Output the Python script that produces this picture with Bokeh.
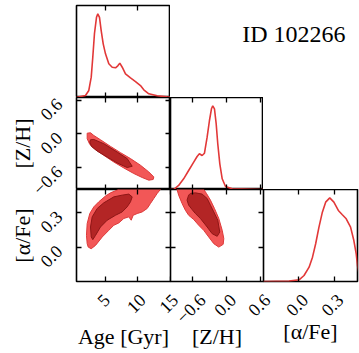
from math import pi
from bokeh.plotting import figure
from bokeh.models import Range1d, LinearAxis, FixedTicker, Label, CustomJSTickFormatter
from bokeh.layouts import column, row
from bokeh.embed import file_html
from bokeh.resources import INLINE

# ---------------- data ----------------
title_text = "ID 102266"
param_labels = ["Age [Gyr]", "[Z/H]", "[α/Fe]"]

age_range = (0.57, 15.0)
zh_range = (-0.99, 0.645)
afe_range = (-0.30, 0.50)
pdf_range = (0.0, 1.1)

age_ticks = [5, 10, 15]
age_tick_labels = ["5", "10", "15"]
zh_ticks = [-0.6, 0.0, 0.6]
zh_tick_labels = ["−0.6", "0.0", "0.6"]
afe_ticks = [0.0, 0.3]
afe_tick_labels = ["0.0", "0.3"]

# 1D marginal posteriors (normalised to peak = 1)
age_x = [0.57, 1.18, 1.95, 2.46, 2.83, 3.07, 3.33, 3.64, 3.84, 4.10, 4.36, 4.67, 5.02, 5.53,
         6.05, 6.56, 6.91, 7.22, 7.59, 8.09, 8.86, 9.63, 10.39, 10.90, 11.67, 12.96, 14.49, 15.0]
age_pdf = [0.0, 0.012, 0.024, 0.084, 0.243, 0.481, 0.765, 0.959, 1.0, 0.959, 0.80, 0.642, 0.522, 0.403,
           0.362, 0.355, 0.379, 0.41, 0.362, 0.283, 0.235, 0.191, 0.143, 0.092, 0.044, 0.020, 0.008, 0.006]

zh_x = [-0.99, -0.935, -0.847, -0.759, -0.671, -0.582, -0.522, -0.482, -0.434, -0.393, -0.346, -0.305,
        -0.270, -0.247, -0.217, -0.187, -0.159, -0.123, -0.081, -0.023, 0.095, 0.595, 0.645]
zh_pdf = [0.0, 0.0, 0.048, 0.128, 0.227, 0.327, 0.395, 0.427, 0.407, 0.434, 0.626, 0.825,
          0.965, 1.0, 0.965, 0.786, 0.547, 0.307, 0.128, 0.036, 0.008, 0.0, 0.0]

afe_x = [-0.30, -0.082, 0.003, 0.045, 0.088, 0.117, 0.144, 0.172, 0.201, 0.229, 0.264, 0.299,
         0.337, 0.371, 0.404, 0.441, 0.469, 0.489, 0.500, 0.52]
afe_pdf = [0.0, 0.004, 0.02, 0.072, 0.171, 0.291, 0.451, 0.650, 0.829, 0.949, 1.0, 0.949,
           0.849, 0.798, 0.750, 0.650, 0.490, 0.331, 0.191, 0.05]

# 2D credible regions (outer = light, inner = dark)
age_zh_outer_age = [2.21, 2.72, 3.23, 4.25, 5.79, 7.32, 8.86, 10.39, 11.67, 12.44, 12.34, 11.67,
                    10.65, 9.37, 7.83, 6.30, 4.76, 3.49, 2.61, 2.21]
age_zh_outer_zh = [0.011, 0.018, -0.030, -0.106, -0.224, -0.335, -0.441, -0.559, -0.678, -0.766, -0.812, -0.824,
                   -0.777, -0.706, -0.607, -0.501, -0.383, -0.282, -0.189, -0.088]
age_zh_inner_age = [2.72, 3.23, 4.76, 6.82, 8.35, 9.12, 8.35, 6.82, 5.28, 3.75, 2.87, 2.61]
age_zh_inner_zh = [-0.106, -0.101, -0.176, -0.325, -0.441, -0.577, -0.600, -0.519, -0.413, -0.307, -0.224, -0.148]

age_afe_outer_age = [2.21, 2.10, 2.21, 2.61, 3.23, 3.99, 5.02, 5.79, 6.82, 7.5, 13.5, 13.46, 12.96, 12.44,
                     11.93, 11.42, 10.65, 9.89, 9.27, 8.97, 8.60, 7.83, 7.06, 6.30, 5.53, 4.52, 3.49, 2.83, 2.37]
age_afe_outer_afe = [0.029, 0.101, 0.204, 0.291, 0.349, 0.393, 0.443, 0.471, 0.495, 0.53, 0.53, 0.501, 0.466, 0.422,
                     0.379, 0.335, 0.305, 0.291, 0.276, 0.233, 0.262, 0.248, 0.209, 0.189, 0.145, 0.087, 0.014, -0.015, -0.001]
age_afe_inner_age = [2.83, 2.72, 2.98, 3.75, 4.76, 6.30, 7.58, 8.60, 9.12, 8.86, 8.35, 7.58, 6.56, 5.28, 4.25, 3.49, 3.07]
age_afe_inner_afe = [0.087, 0.174, 0.262, 0.335, 0.384, 0.436, 0.451, 0.460, 0.436, 0.393, 0.349, 0.305, 0.276, 0.233,
                     0.174, 0.101, 0.064]

zh_afe_outer_zh = [-0.88, -0.875, -0.847, -0.787, -0.729, -0.671, -0.582, -0.494, -0.406, -0.318, -0.229, -0.141,
                   -0.064, -0.053, -0.081, -0.141, -0.217, -0.288, -0.358, -0.406, -0.42]
zh_afe_outer_afe = [0.53, 0.501, 0.451, 0.379, 0.320, 0.276, 0.239, 0.189, 0.145, 0.087, 0.029, -0.001,
                    0.023, 0.073, 0.145, 0.248, 0.335, 0.408, 0.466, 0.501, 0.53]
zh_afe_inner_zh = [-0.671, -0.699, -0.671, -0.611, -0.552, -0.464, -0.346, -0.258, -0.169, -0.124, -0.159,
                   -0.229, -0.288, -0.346, -0.434, -0.552, -0.641]
zh_afe_inner_afe = [0.451, 0.408, 0.364, 0.326, 0.291, 0.248, 0.174, 0.116, 0.093, 0.130, 0.233,
                    0.305, 0.364, 0.422, 0.460, 0.471, 0.466]

# ---------------- style / layout ----------------
FONT = "Liberation Serif"
TICK_SIZE = 18
LINE_RED = "#e23838"
OUTER_FILL = "#f25757"
OUTER_EDGE = "#dc3a3a"
INNER_FILL = "#b32525"
INNER_EDGE = "#8e1616"

W, H = 359, 353
LEFT = 76          # left margin (px)
TOP = 5
FRAME = 92         # panel height (px)
COLW = [94, 93, 94]
BOTTOM = H - TOP - 3 * FRAME
EXT = 20

COL_X0 = [LEFT, LEFT + COLW[0], LEFT + COLW[0] + COLW[1]]
ROW_Y0 = [TOP, TOP + FRAME, TOP + 2 * FRAME]   # from top

BLANK_JS = "return '';"
CHAR_W = {"−": 0.564, ".": 0.25}


def text_w(s):
    return sum(CHAR_W.get(c, 0.5) for c in s) * TICK_SIZE


def make_fig(w, h, xr, yr, left=0, right=0, top=0, bottom=0, outline=True):
    p = figure(width=w, height=h, x_range=Range1d(*xr), y_range=Range1d(*yr),
               output_backend="svg", toolbar_location=None,
               x_axis_location=None, y_axis_location=None,
               min_border_left=left, min_border_right=right,
               min_border_top=top, min_border_bottom=bottom)
    p.grid.grid_line_color = None
    p.background_fill_color = "white"
    p.border_fill_color = None
    if outline:
        p.outline_line_color = "black"
        p.outline_line_width = 1.6
    else:
        p.outline_line_color = None
    return p


def add_axis(p, side, ticks, label=None, label_standoff=0):
    ax = LinearAxis(ticker=FixedTicker(ticks=ticks), formatter=CustomJSTickFormatter(code=BLANK_JS))
    ax.major_tick_in = 5
    ax.major_tick_out = 0
    ax.minor_tick_in = 0
    ax.minor_tick_out = 0
    ax.major_tick_line_width = 1.3
    ax.major_tick_line_color = "black"
    ax.axis_line_color = None
    ax.major_label_text_font_size = "0px"
    ax.major_label_standoff = 0
    if label is not None:
        ax.axis_label = label
        ax.axis_label_text_font = FONT
        ax.axis_label_text_font_size = "22px"
        ax.axis_label_text_font_style = "normal"
        ax.axis_label_text_color = "black"
        ax.axis_label_standoff = label_standoff
    p.add_layout(ax, side)
    return ax


# row 0
f00 = make_fig(LEFT + COLW[0], TOP + FRAME, age_range, pdf_range, left=LEFT, top=TOP)
f00.line(age_x, age_pdf, line_color=LINE_RED, line_width=1.6)
add_axis(f00, "below", age_ticks)
add_axis(f00, "above", age_ticks)

fspace = make_fig(W - LEFT - COLW[0], TOP + FRAME, (0, 1), (0, 1), outline=False)
fspace.background_fill_color = None

# row 1
f10 = make_fig(LEFT + COLW[0], FRAME, age_range, zh_range, left=LEFT)
f10.patch(age_zh_outer_age, age_zh_outer_zh, fill_color=OUTER_FILL, line_color=OUTER_EDGE, line_width=1)
f10.patch(age_zh_inner_age, age_zh_inner_zh, fill_color=INNER_FILL, line_color=INNER_EDGE, line_width=1)
add_axis(f10, "left", zh_ticks, label=param_labels[1], label_standoff=42)
add_axis(f10, "right", zh_ticks)
add_axis(f10, "below", age_ticks)
add_axis(f10, "above", age_ticks)

f11 = make_fig(COLW[1], FRAME, zh_range, pdf_range)
f11.line(zh_x, zh_pdf, line_color=LINE_RED, line_width=1.6)
add_axis(f11, "below", zh_ticks)
add_axis(f11, "above", zh_ticks)

# row 2
f20 = make_fig(LEFT + COLW[0] + EXT, FRAME + BOTTOM, age_range, afe_range, left=LEFT, right=EXT, bottom=BOTTOM)
f20.patch(age_afe_outer_age, age_afe_outer_afe, fill_color=OUTER_FILL, line_color=OUTER_EDGE, line_width=1)
f20.patch(age_afe_inner_age, age_afe_inner_afe, fill_color=INNER_FILL, line_color=INNER_EDGE, line_width=1)
add_axis(f20, "left", afe_ticks, label=param_labels[2], label_standoff=42)
add_axis(f20, "right", afe_ticks)
add_axis(f20, "below", age_ticks, label=param_labels[0], label_standoff=42)
add_axis(f20, "above", age_ticks)

f21 = make_fig(COLW[1] + EXT, FRAME + BOTTOM, zh_range, afe_range, right=EXT, bottom=BOTTOM)
f21.margin = (0, 0, 0, -EXT)
f21.patch(zh_afe_outer_zh, zh_afe_outer_afe, fill_color=OUTER_FILL, line_color=OUTER_EDGE, line_width=1)
f21.patch(zh_afe_inner_zh, zh_afe_inner_afe, fill_color=INNER_FILL, line_color=INNER_EDGE, line_width=1)
add_axis(f21, "left", afe_ticks)
add_axis(f21, "right", afe_ticks)
add_axis(f21, "below", zh_ticks, label=param_labels[1], label_standoff=42)
add_axis(f21, "above", zh_ticks)

f22 = make_fig(COLW[2] + 2, FRAME + BOTTOM, afe_range, pdf_range, right=2, bottom=BOTTOM)
f22.margin = (0, 0, 0, -EXT)
f22.line(afe_x, afe_pdf, line_color=LINE_RED, line_width=1.6)
add_axis(f22, "below", afe_ticks, label=param_labels[2], label_standoff=37)
add_axis(f22, "above", afe_ticks)

grid = column(row(f00, fspace), row(f10, f11), row(f20, f21, f22), spacing=0)

# ---------------- transparent overlay for rotated tick labels and the title ----------------
ov = figure(width=W, height=H, x_range=Range1d(0, W), y_range=Range1d(0, H),
            output_backend="svg", toolbar_location=None,
            x_axis_location=None, y_axis_location=None,
            min_border_left=0, min_border_right=0, min_border_top=0, min_border_bottom=0)
ov.grid.grid_line_color = None
ov.background_fill_color = None
ov.border_fill_color = None
ov.outline_line_color = None
ov.margin = (-H, 0, 0, 0)


def x_map(rng, p0, p1):
    k = (rng[1] - rng[0]) / (p1 - p0)
    return Range1d(rng[0] - p0 * k, rng[1] + (W - p1) * k)


def y_map(rng, top_px, bottom_px):
    b_hi, b_lo = H - top_px, H - bottom_px
    k = (rng[1] - rng[0]) / (b_hi - b_lo)
    return Range1d(rng[0] - b_lo * k, rng[1] + (H - b_hi) * k)


ov.extra_x_ranges = {
    "age": x_map(age_range, COL_X0[0], COL_X0[0] + COLW[0]),
    "zh": x_map(zh_range, COL_X0[1], COL_X0[1] + COLW[1]),
    "afe": x_map(afe_range, COL_X0[2], COL_X0[2] + COLW[2]),
}
ov.extra_y_ranges = {
    "zh": y_map(zh_range, ROW_Y0[1], ROW_Y0[1] + FRAME),
    "afe": y_map(afe_range, ROW_Y0[2], ROW_Y0[2] + FRAME),
}

X_LABEL_TOP = ROW_Y0[2] + FRAME + 11     # top of rotated x tick labels (px from top)
for name, ticks, labels in [("age", age_ticks, age_tick_labels),
                            ("zh", zh_ticks, zh_tick_labels),
                            ("afe", afe_ticks, afe_tick_labels)]:
    for t, s in zip(ticks, labels):
        half = (text_w(s) + 0.68 * TICK_SIZE) * 0.7071 / 2
        ov.add_layout(Label(x=t, y=H - (X_LABEL_TOP + half), x_range_name=name,
                            x_units="data", y_units="screen", x_offset=-2,
                            text=s, angle=pi / 4, text_align="center", text_baseline="middle",
                            text_font=FONT, text_font_size=f"{TICK_SIZE}px", text_color="black"))

for name, ticks, labels in [("zh", zh_ticks, zh_tick_labels), ("afe", afe_ticks, afe_tick_labels)]:
    for t, s in zip(ticks, labels):
        ov.add_layout(Label(x=LEFT - 17.5, y=t, y_range_name=name,
                            x_units="screen", y_units="data", y_offset=-1,
                            text=s, angle=pi / 4, text_align="right", text_baseline="middle",
                            text_font=FONT, text_font_size=f"{TICK_SIZE}px", text_color="black"))

ov.add_layout(Label(x=345, y=H - 33, x_units="screen", y_units="screen", text=title_text,
                    text_font=FONT, text_font_size="24px", text_align="right",
                    text_baseline="alphabetic", text_color="black"))

layout = column(grid, ov, spacing=0)

html = file_html(layout, INLINE)
with open("out.html", "w") as fh:
    fh.write(html)
